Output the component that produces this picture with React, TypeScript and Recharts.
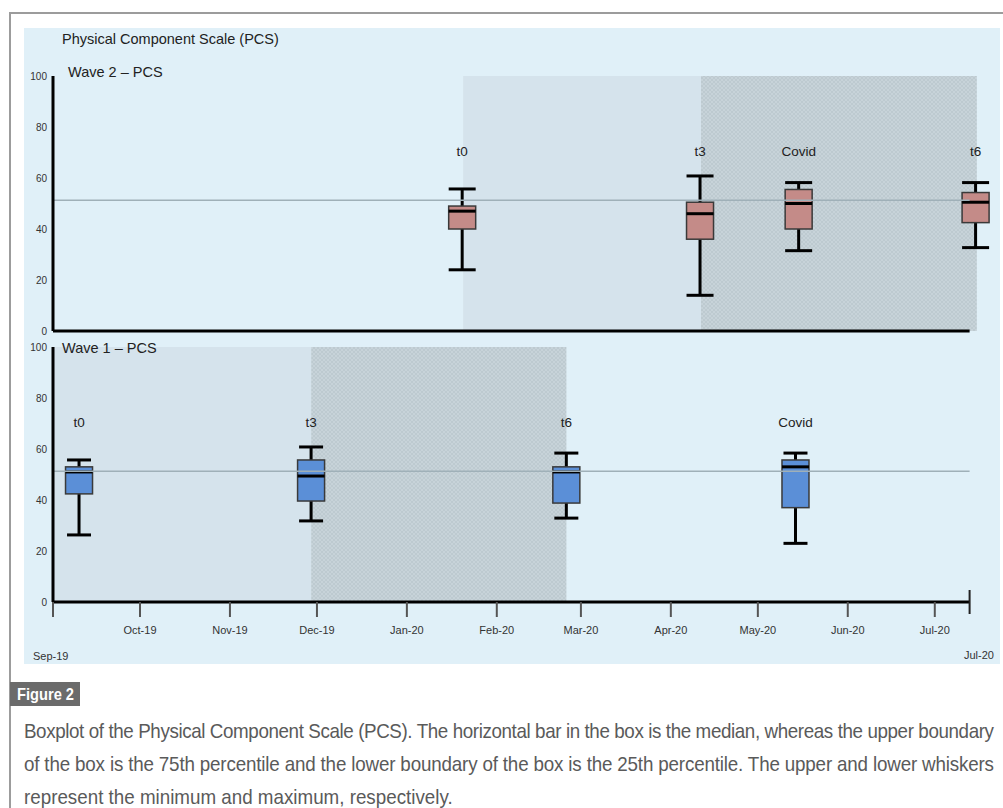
import { ComposedChart, Bar, XAxis, YAxis, ReferenceArea, ReferenceLine } from 'recharts';

// Wave 2 (top panel) box plot values
const wave2Labels = ['t0', 't3', 'Covid', 't6'];
const wave2Days = [141, 223, 257, 318];
const wave2Min = [24, 14, 31.5, 32.7];
const wave2Q1 = [40, 36, 40, 42.5];
const wave2Median = [47, 46, 50, 50.5];
const wave2Q3 = [49, 50.5, 55.5, 54.3];
const wave2Max = [55.7, 60.8, 58.2, 58.2];

// Wave 1 (bottom panel) box plot values
const wave1Labels = ['t0', 't3', 't6', 'Covid'];
const wave1Days = [9, 89, 177, 256];
const wave1Min = [26.3, 31.8, 32.9, 23];
const wave1Q1 = [42.4, 39.6, 38.8, 37];
const wave1Median = [51, 49.4, 51, 53];
const wave1Q3 = [53, 55.7, 53, 55.7];
const wave1Max = [55.7, 60.8, 58.4, 58.4];

// shaded periods, in days since 1 Sep 2019
const wave2LightSpan = [141.4, 223.4];
const wave2HatchSpan = [223.4, 318.5];
const wave1LightSpan = [0, 89];
const wave1HatchSpan = [89, 177];

// axes
const monthTickDays = [0, 30, 61, 91, 122, 153, 182, 213, 243, 274, 304, 316];
const monthTickLabels = ['', 'Oct-19', 'Nov-19', 'Dec-19', 'Jan-20', 'Feb-20', 'Mar-20', 'Apr-20', 'May-20', 'Jun-20', 'Jul-20', ''];
const axisEndDay = 316;
const xDomainMax = 322;
const yTicks = [0, 20, 40, 60, 80, 100];
const normValue = 51.3;
const labelValue = 70.5;

const captionLines = [
  'Boxplot of the Physical Component Scale (PCS). The horizontal bar in the box is the median, whereas the upper boundary',
  'of the box is the 75th percentile and the lower boundary of the box is the 25th percentile. The upper and lower whiskers',
  'represent the minimum and maximum, respectively.',
];

const CHART_FONT = '"Liberation Sans", Arial, sans-serif';

const buildRows = (
  labels: string[],
  days: number[],
  mins: number[],
  q1s: number[],
  medians: number[],
  q3s: number[],
  maxs: number[],
) =>
  labels.map((label, i) => ({
    label,
    day: days[i],
    range: [mins[i], maxs[i]],
    min: mins[i],
    q1: q1s[i],
    median: medians[i],
    q3: q3s[i],
    max: maxs[i],
  }));

const wave2Rows = buildRows(wave2Labels, wave2Days, wave2Min, wave2Q1, wave2Median, wave2Q3, wave2Max);
const wave1Rows = buildRows(wave1Labels, wave1Days, wave1Min, wave1Q1, wave1Median, wave1Q3, wave1Max);

const makeBoxShape = (fill: string, capWidth: number) => (props: any) => {
  const { x, y, width, height, payload } = props;
  const { min, max, q1, median, q3, label } = payload;
  // linear mapping inside the whisker bar that the library positioned
  const toPx = (v: number) => y + (height * (max - v)) / (max - min);
  const cx = x + width / 2;
  const half = capWidth / 2;
  return (
    <g>
      <line x1={cx} x2={cx} y1={toPx(max)} y2={toPx(min)} stroke="#000" strokeWidth={3} />
      <line x1={cx - half} x2={cx + half} y1={toPx(max)} y2={toPx(max)} stroke="#000" strokeWidth={3} />
      <line x1={cx - half} x2={cx + half} y1={toPx(min)} y2={toPx(min)} stroke="#000" strokeWidth={3} />
      <rect
        x={x}
        y={toPx(q3)}
        width={width}
        height={toPx(q1) - toPx(q3)}
        fill={fill}
        stroke="#3a3a3a"
        strokeWidth={1.5}
      />
      <line x1={x} x2={x + width} y1={toPx(median)} y2={toPx(median)} stroke="#000" strokeWidth={3} />
      <text
        x={cx}
        y={toPx(labelValue)}
        textAnchor="middle"
        dominantBaseline="central"
        fontSize={13.5}
        fill="#222"
        fontFamily={CHART_FONT}
      >
        {label}
      </text>
    </g>
  );
};

const MonthTick = (props: any) => {
  const { x, y, payload } = props;
  const idx = monthTickDays.indexOf(payload.value);
  const label = idx >= 0 ? monthTickLabels[idx] : '';
  const isEnd = payload.value === axisEndDay;
  const axisY = y - 20;
  return (
    <g>
      <line
        x1={x}
        x2={x}
        y1={isEnd ? axisY - 12 : axisY}
        y2={isEnd ? axisY + 12 : axisY + 15}
        stroke={isEnd ? '#222' : '#555'}
        strokeWidth={2}
      />
      {label && (
        <text x={x} y={y + 12} textAnchor="middle" fontSize={11} fill="#333" fontFamily={CHART_FONT}>
          {label}
        </text>
      )}
    </g>
  );
};

const yTickStyle = { fontSize: 10, fill: '#333', fontFamily: CHART_FONT };

const textStyle = { position: 'absolute' as const, fontSize: 14.5, color: '#222', whiteSpace: 'nowrap' as const };

export default function App() {
  return (
    <div
      style={{
        position: 'absolute',
        left: 0,
        top: 0,
        width: 1003,
        height: 808,
        background: '#fff',
        overflow: 'hidden',
        fontFamily: CHART_FONT,
      }}
    >
      <svg width={0} height={0} style={{ position: 'absolute' }}>
        <defs>
          <pattern id="pcsHatch" width={4} height={4} patternUnits="userSpaceOnUse">
            <rect width={4} height={4} fill="#c7d3d9" />
            <path d="M0,0 L4,4 M4,0 L0,4" stroke="#b9c6cc" strokeWidth={0.7} />
          </pattern>
        </defs>
      </svg>

      {/* frame */}
      <div style={{ position: 'absolute', left: 10, top: 12, width: 1000, height: 2, background: '#9c9c9c' }} />
      <div style={{ position: 'absolute', left: 9, top: 12, width: 2, height: 800, background: '#9c9c9c' }} />
      <div style={{ position: 'absolute', left: 24, top: 28, width: 976, height: 636, background: '#e0f0f8' }} />

      <div style={{ position: 'absolute', left: 0, top: 60 }}>
        <ComposedChart
          width={1003}
          height={276}
          data={wave2Rows}
          margin={{ top: 16, right: 16, bottom: 5, left: 23 }}
        >
          <XAxis type="number" dataKey="day" domain={[0, xDomainMax]} hide />
          <YAxis
            type="number"
            domain={[0, 100]}
            ticks={yTicks}
            interval={0}
            width={30}
            tickLine={false}
            tickSize={0}
            tickMargin={6}
            axisLine={{ stroke: '#000', strokeWidth: 3 }}
            tick={yTickStyle}
          />
          <ReferenceArea
            x1={wave2LightSpan[0]}
            x2={wave2LightSpan[1]}
            y1={0}
            y2={100}
            fill="#d5e3ec"
            fillOpacity={1}
            stroke="none"
          />
          <ReferenceArea
            x1={wave2HatchSpan[0]}
            x2={wave2HatchSpan[1]}
            y1={0}
            y2={100}
            fill="url(#pcsHatch)"
            fillOpacity={1}
            stroke="none"
          />
          <ReferenceLine
            segment={[
              { x: 0, y: normValue },
              { x: axisEndDay, y: normValue },
            ]}
            stroke="#9fb0b8"
            strokeWidth={1.5}
          />
          <ReferenceLine
            segment={[
              { x: 0, y: 0 },
              { x: axisEndDay, y: 0 },
            ]}
            stroke="#000"
            strokeWidth={3}
          />
          <Bar
            dataKey="range"
            barSize={27}
            isAnimationActive={false}
            shape={makeBoxShape('#c48b88', 27)}
          />
        </ComposedChart>
      </div>

      <div style={{ position: 'absolute', left: 0, top: 330 }}>
        <ComposedChart
          width={1003}
          height={312}
          data={wave1Rows}
          margin={{ top: 17, right: 16, bottom: 5, left: 23 }}
        >
          <XAxis
            type="number"
            dataKey="day"
            domain={[0, xDomainMax]}
            ticks={monthTickDays}
            interval={0}
            height={35}
            axisLine={false}
            tickLine={false}
            tickSize={15}
            tickMargin={5}
            tick={<MonthTick />}
          />
          <YAxis
            type="number"
            domain={[0, 100]}
            ticks={yTicks}
            interval={0}
            width={30}
            tickLine={false}
            tickSize={0}
            tickMargin={6}
            axisLine={{ stroke: '#000', strokeWidth: 3 }}
            tick={yTickStyle}
          />
          <ReferenceArea
            x1={wave1LightSpan[0]}
            x2={wave1LightSpan[1]}
            y1={0}
            y2={100}
            fill="#d5e3ec"
            fillOpacity={1}
            stroke="none"
          />
          <ReferenceArea
            x1={wave1HatchSpan[0]}
            x2={wave1HatchSpan[1]}
            y1={0}
            y2={100}
            fill="url(#pcsHatch)"
            fillOpacity={1}
            stroke="none"
          />
          <ReferenceLine
            segment={[
              { x: 0, y: normValue },
              { x: axisEndDay, y: normValue },
            ]}
            stroke="#9fb0b8"
            strokeWidth={1.5}
          />
          <ReferenceLine
            segment={[
              { x: 0, y: 0 },
              { x: axisEndDay, y: 0 },
            ]}
            stroke="#000"
            strokeWidth={3}
          />
          <Bar
            dataKey="range"
            barSize={27}
            isAnimationActive={false}
            shape={makeBoxShape('#5b8fd7', 24)}
          />
        </ComposedChart>
      </div>

      {/* panel titles, drawn over the charts */}
      <div style={{ ...textStyle, left: 62, top: 31 }}>Physical Component Scale (PCS)</div>
      <div style={{ ...textStyle, left: 68, top: 64 }}>Wave 2 – PCS</div>
      <div style={{ ...textStyle, left: 62, top: 340 }}>Wave 1 – PCS</div>

      <div style={{ position: 'absolute', left: 33, top: 650, fontSize: 11, color: '#333' }}>Sep-19</div>
      <div style={{ position: 'absolute', left: 964, top: 649, fontSize: 11, color: '#333' }}>Jul-20</div>

      {/* caption */}
      <svg
        width={1003}
        height={808}
        style={{ position: 'absolute', left: 0, top: 0, pointerEvents: 'none' }}
      >
        <rect x={10} y={682} width={70} height={24} fill="#6b6b6b" />
        <text
          x={17}
          y={700}
          fill="#fff"
          fontFamily={CHART_FONT}
          fontWeight="bold"
          fontSize={17}
          textLength={57}
          lengthAdjust="spacingAndGlyphs"
        >
          Figure 2
        </text>
        <g transform="translate(24 0) scale(0.94 1)">
          {captionLines.map((line, i) => (
            <text
              key={i}
              x={0}
              y={738 + i * 33}
              fill="#5a5a5a"
              fontFamily={CHART_FONT}
              fontSize={20}
              textLength={i < 2 ? 970 / 0.94 : undefined}
              lengthAdjust="spacing"
            >
              {line}
            </text>
          ))}
        </g>
      </svg>
    </div>
  );
}
